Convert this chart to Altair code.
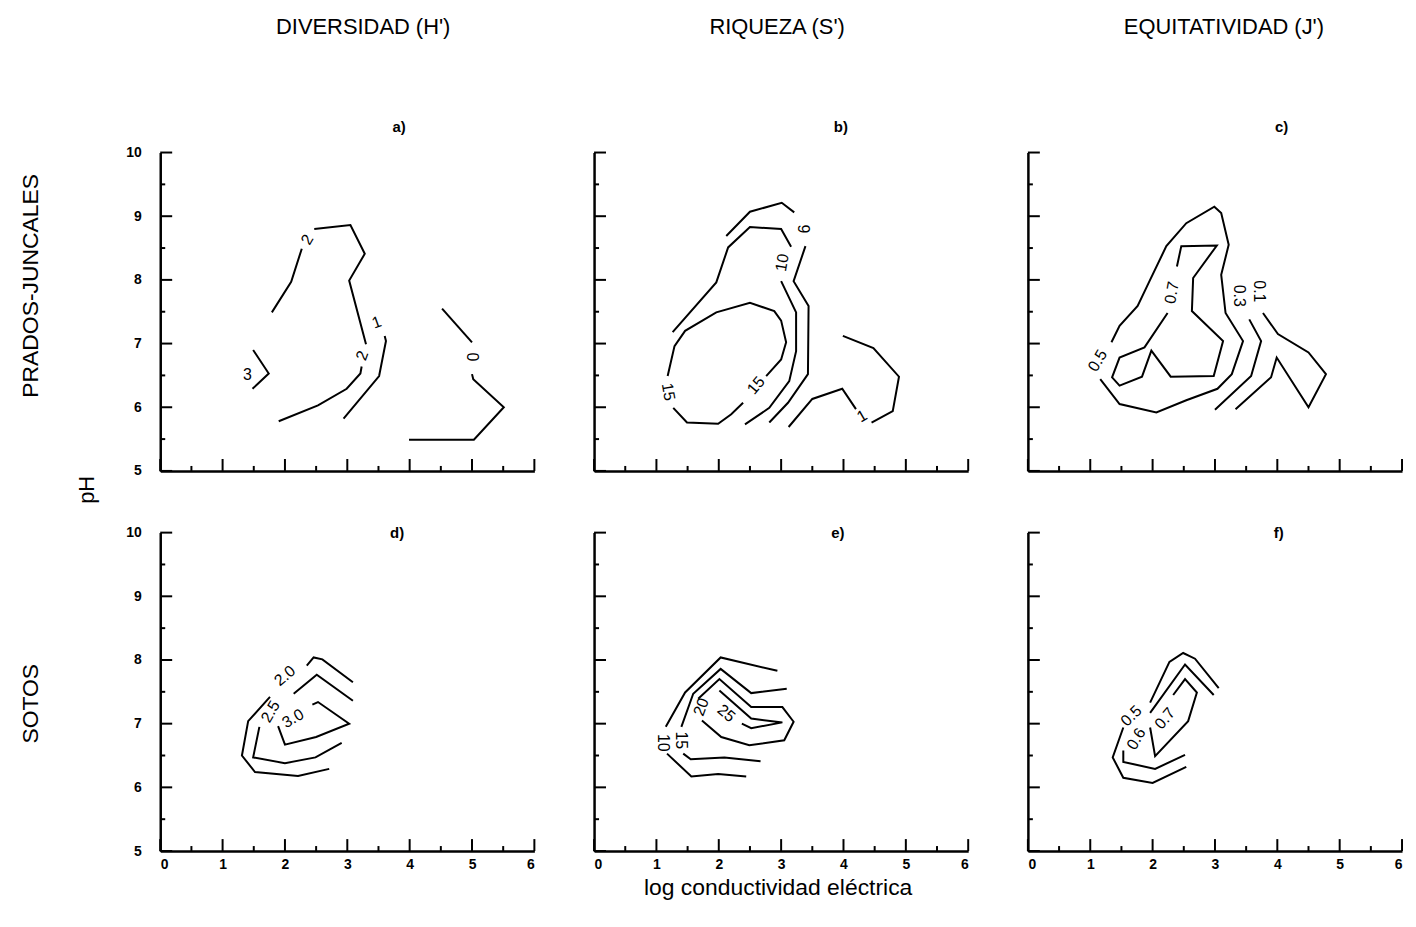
import altair as alt
import pandas as pd

# ---------------- data ----------------
# each entry: (contour level, x values, y values)  x = log conductividad, y = pH
PANEL_A_SEGMENTS = [
    ("2", [1.79, 2.10, 2.27], [7.49, 7.97, 8.49]),
    ("2", [2.47, 3.05, 3.28, 3.03, 3.30], [8.80, 8.86, 8.41, 7.99, 6.99]),
    ("2", [3.23, 3.21, 2.99, 2.53, 1.90], [6.64, 6.53, 6.29, 6.03, 5.78]),
    ("1", [3.60, 3.62, 3.51, 2.94], [7.12, 7.04, 6.49, 5.82]),
    ("3", [1.49, 1.74, 1.48], [6.90, 6.53, 6.29]),
    ("0", [4.52, 5.00], [7.55, 7.02]),
    ("0", [5.00, 5.02, 5.51, 5.03, 3.99], [6.52, 6.44, 6.00, 5.49, 5.49]),
]
PANEL_A_LABELS = [("2", 2.36, 8.63, 300), ("2", 3.24, 6.81, 290), ("1", 3.47, 7.33, 340),
                  ("3", 1.40, 6.51, 0), ("0", 5.00, 6.79, 90)]

PANEL_B_SEGMENTS = [
    ("9", [2.12, 2.50, 3.01, 3.21], [8.69, 9.07, 9.21, 9.06]),
    ("9", [3.39, 3.20, 3.44, 3.43, 3.11, 2.81], [8.53, 7.98, 7.59, 6.52, 6.07, 5.76]),
    ("10", [1.26, 1.96, 2.15, 2.50, 3.00, 3.16], [7.18, 7.96, 8.51, 8.83, 8.80, 8.52]),
    ("10", [3.00, 3.24, 3.24, 3.13, 2.81, 2.42], [7.98, 7.49, 6.88, 6.41, 5.99, 5.73]),
    ("15", [1.18, 1.29, 1.46, 1.96, 2.50, 2.89, 3.00, 3.08, 3.00, 2.76],
           [6.49, 6.96, 7.20, 7.49, 7.64, 7.51, 7.36, 7.02, 6.75, 6.49]),
    ("15", [2.39, 2.20, 1.99, 1.49, 1.27], [6.07, 5.89, 5.74, 5.76, 5.99]),
    ("1", [3.12, 3.50, 3.98, 4.20], [5.69, 6.13, 6.29, 5.97]),
    ("1", [4.45, 4.79, 4.89, 4.48, 3.99], [5.76, 5.94, 6.48, 6.93, 7.12]),
]
PANEL_B_LABELS = [("9", 3.35, 8.80, 90), ("10", 3.02, 8.27, 280), ("15", 2.60, 6.34, 310),
                  ("15", 1.19, 6.24, 80), ("1", 4.30, 5.86, 330)]

PANEL_C_SEGMENTS = [
    ("0.5", [1.34, 1.47, 1.76, 1.95, 2.22, 2.54, 2.99, 3.10, 3.22, 3.10, 3.17, 3.45, 3.27, 3.04, 2.54, 2.06, 1.47, 1.16],
            [7.02, 7.28, 7.59, 7.98, 8.53, 8.89, 9.15, 9.05, 8.55, 8.08, 7.48, 7.04, 6.52, 6.29, 6.11, 5.92, 6.05, 6.44]),
    ("0.7", [2.39, 2.46, 3.03, 2.65, 2.63, 3.13, 2.98, 2.29, 1.98, 1.83, 1.47, 1.35, 1.47, 1.87, 2.24],
            [8.21, 8.53, 8.54, 8.03, 7.51, 7.04, 6.49, 6.48, 6.89, 6.48, 6.34, 6.47, 6.78, 6.94, 7.48]),
    ("0.3", [3.55, 3.74, 3.58, 3.00], [7.38, 7.04, 6.49, 5.96]),
    ("0.1", [3.77, 4.01, 4.50, 4.78, 4.50, 3.99, 3.90, 3.33], [7.48, 7.15, 6.86, 6.52, 6.00, 6.78, 6.47, 5.97]),
]
PANEL_C_LABELS = [("0.5", 1.12, 6.73, 300), ("0.7", 2.31, 7.80, 280), ("0.3", 3.38, 7.75, 90),
                  ("0.1", 3.71, 7.82, 90)]

PANEL_D_SEGMENTS = [
    ("2.0", [2.35, 2.46, 2.60, 3.09], [7.91, 8.04, 8.01, 7.65]),
    ("2.0", [1.76, 1.41, 1.31, 1.52, 2.21, 2.71], [7.42, 7.04, 6.50, 6.24, 6.18, 6.29]),
    ("2.5", [2.14, 2.51, 3.09], [7.47, 7.77, 7.36]),
    ("2.5", [1.59, 1.49, 2.00, 2.49, 2.91], [6.95, 6.47, 6.38, 6.47, 6.70]),
    ("3.0", [1.89, 2.00, 2.50, 3.03, 2.53, 2.44], [6.96, 6.67, 6.79, 7.00, 7.34, 7.30]),
]
PANEL_D_LABELS = [("2.0", 2.00, 7.75, 320), ("2.5", 1.77, 7.19, 300), ("3.0", 2.13, 7.08, 330)]

PANEL_E_SEGMENTS = [
    ("10", [2.94, 2.03, 1.46, 1.15], [7.83, 8.04, 7.49, 6.95]),
    ("10", [1.17, 1.56, 1.99, 2.44], [6.53, 6.17, 6.21, 6.17]),
    ("15", [3.09, 2.52, 2.03, 1.59, 1.40], [7.55, 7.48, 7.86, 7.47, 6.95]),
    ("15", [1.43, 1.55, 2.09, 2.67], [6.53, 6.44, 6.47, 6.41]),
    ("20", [1.67, 2.01, 2.52, 3.02, 3.20, 3.05, 2.49, 2.04, 1.73],
           [7.39, 7.70, 7.26, 7.26, 7.03, 6.74, 6.66, 6.79, 7.05]),
    ("25", [2.01, 2.52, 3.02, 2.52, 2.37], [7.52, 7.08, 7.02, 6.93, 7.00]),
]
PANEL_E_LABELS = [("10", 1.11, 6.70, 90), ("15", 1.40, 6.74, 90), ("20", 1.72, 7.26, 290),
                  ("25", 2.12, 7.16, 40)]

PANEL_F_SEGMENTS = [
    ("0.5", [1.96, 2.27, 2.49, 2.68, 3.06], [7.33, 7.97, 8.11, 8.02, 7.56]),
    ("0.5", [1.53, 1.36, 1.53, 2.00, 2.54], [6.94, 6.47, 6.15, 6.07, 6.32]),
    ("0.6", [1.96, 2.52, 2.98], [7.17, 7.93, 7.45]),
    ("0.6", [1.53, 1.53, 2.04, 2.52], [6.58, 6.40, 6.29, 6.51]),
    ("0.7", [2.33, 2.52, 2.71, 2.57, 2.04, 1.96], [7.45, 7.70, 7.49, 7.04, 6.49, 6.94]),
]
PANEL_F_LABELS = [("0.5", 1.66, 7.12, 315), ("0.6", 1.74, 6.76, 300), ("0.7", 2.20, 7.08, 310)]

X_MAJOR = [0, 1, 2, 3, 4, 5, 6]
X_MINOR = [0.5, 1.5, 2.5, 3.5, 4.5, 5.5]
Y_MAJOR = [5, 6, 7, 8, 9, 10]
Y_MINOR = [5.5, 6.5, 7.5, 8.5, 9.5]

COL_TITLES = ["DIVERSIDAD (H')", "RIQUEZA (S')", "EQUITATIVIDAD (J')"]
ROW_TITLES = ["PRADOS-JUNCALES", "SOTOS"]
LETTERS = ["a)", "b)", "c)", "d)", "e)", "f)"]
Y_TITLE = "pH"
X_TITLE = "log conductividad eléctrica"

# ---------------- layout / style ----------------
W, H = 376, 320
LABEL_FONT = "Liberation Sans"
TITLE_FONT = "Liberation Sans"
TITLE_SIZE = 22


def seg_frame(segments):
    rows = []
    for i, (lvl, xs, ys) in enumerate(segments):
        for j, (x, y) in enumerate(zip(xs, ys)):
            rows.append({"seg": i, "level": lvl, "order": j, "x": x, "y": y})
    return pd.DataFrame(rows)


def lab_frame(labels):
    return pd.DataFrame([{"text": t, "x": x, "y": y, "angle": a} for t, x, y, a in labels])


def text_layer(txt, px, py, size, angle=0, weight="normal", font=TITLE_FONT):
    return alt.Chart(pd.DataFrame({"t": [txt]})).mark_text(
        fontSize=size, font=font, fontWeight=weight, angle=angle, color="black",
        align="center", baseline="middle"
    ).encode(text="t:N", x=alt.value(px), y=alt.value(py))


def panel(segments, labels, show_xl, show_yl, extras):
    xenc = alt.X("x:Q", scale=alt.Scale(domain=[0, 6], nice=False, zero=False),
                 axis=alt.Axis(values=X_MAJOR, labels=show_xl, ticks=False, grid=False, format="d",
                               domainWidth=2.5, domainColor="black", title=None,
                               labelFont=LABEL_FONT, labelFontSize=14, labelFontWeight="bold",
                               labelColor="black", labelPadding=7))
    yenc = alt.Y("y:Q", scale=alt.Scale(domain=[5, 10], nice=False, zero=False),
                 axis=alt.Axis(values=Y_MAJOR, labels=show_yl, ticks=False, grid=False, format="d",
                               domainWidth=2.5, domainColor="black", title=None,
                               labelFont=LABEL_FONT, labelFontSize=14, labelFontWeight="bold",
                               labelColor="black", labelPadding=19))
    lines = alt.Chart(seg_frame(segments)).mark_line(
        color="black", strokeWidth=2, strokeJoin="miter"
    ).encode(x=xenc, y=yenc, detail="seg:N", order="order:Q")
    labs = alt.Chart(lab_frame(labels)).mark_text(
        fontSize=16, font=LABEL_FONT, color="black", align="center", baseline="middle"
    ).encode(x="x:Q", y="y:Q", text="text:N", angle=alt.Angle("angle:Q", scale=None))
    xmaj = alt.Chart(pd.DataFrame({"x": X_MAJOR})).mark_rule(color="black", strokeWidth=2).encode(
        x="x:Q", y=alt.value(H), y2=alt.value(H - 12))
    xmin = alt.Chart(pd.DataFrame({"x": X_MINOR})).mark_rule(color="black", strokeWidth=2).encode(
        x="x:Q", y=alt.value(H), y2=alt.value(H - 5))
    ymaj = alt.Chart(pd.DataFrame({"y": Y_MAJOR})).mark_rule(color="black", strokeWidth=2).encode(
        y="y:Q", x=alt.value(0), x2=alt.value(12))
    ymin = alt.Chart(pd.DataFrame({"y": Y_MINOR})).mark_rule(color="black", strokeWidth=2).encode(
        y="y:Q", x=alt.value(0), x2=alt.value(5))
    return alt.layer(lines, labs, xmaj, xmin, ymaj, ymin, *extras).properties(width=W, height=H)


pa = panel(PANEL_A_SEGMENTS, PANEL_A_LABELS, False, True, [
    text_layer(LETTERS[0], 240, -26, 15, weight="bold", font=LABEL_FONT),
    text_layer(COL_TITLES[0], 204, -126, TITLE_SIZE),
    text_layer(ROW_TITLES[0], -130, 134, 23, angle=270),
    text_layer(Y_TITLE, -74, 339, 22, angle=270),
])
pb = panel(PANEL_B_SEGMENTS, PANEL_B_LABELS, False, False, [
    text_layer(LETTERS[1], 248, -26, 15, weight="bold", font=LABEL_FONT),
    text_layer(COL_TITLES[1], 184, -126, TITLE_SIZE),
])
pc = panel(PANEL_C_SEGMENTS, PANEL_C_LABELS, False, False, [
    text_layer(LETTERS[2], 255, -26, 15, weight="bold", font=LABEL_FONT),
    text_layer(COL_TITLES[2], 197, -126, TITLE_SIZE),
])
pd_ = panel(PANEL_D_SEGMENTS, PANEL_D_LABELS, True, True, [
    text_layer(LETTERS[3], 238, 0, 15, weight="bold", font=LABEL_FONT),
    text_layer(ROW_TITLES[1], -130, 172, 23, angle=270),
])
pe = panel(PANEL_E_SEGMENTS, PANEL_E_LABELS, True, False, [
    text_layer(LETTERS[4], 245, 0, 15, weight="bold", font=LABEL_FONT),
    text_layer(X_TITLE, 185, 357, 23),
])
pf = panel(PANEL_F_SEGMENTS, PANEL_F_LABELS, True, False, [
    text_layer(LETTERS[5], 252, 0, 15, weight="bold", font=LABEL_FONT),
])

chart = alt.concat(pa, pb, pc, pd_, pe, pf, columns=3,
                   spacing={"row": 62, "column": 60}, bounds="flush").properties(
    padding={"left": 12, "top": 6, "right": 5, "bottom": 5}
).configure(background="white").configure_view(stroke="transparent", strokeWidth=0)

chart.save("out.html", embed_options={"renderer": "svg", "actions": False})
